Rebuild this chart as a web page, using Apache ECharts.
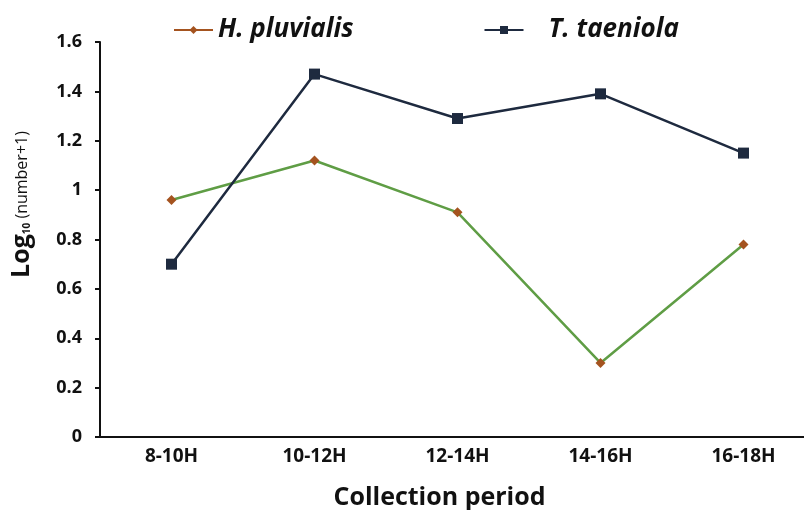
<!DOCTYPE html>
<html lang="en">
  <head>
    <meta charset="UTF-8" />
    <title>Collection period</title>
    <script src="https://cdn.jsdelivr.net/npm/echarts@6/dist/echarts.min.js"></script>
  </head>
  <body style="margin: 0">
    <div id="main" style="width: 804px; height: 510px"></div>
    <script type="text/javascript">
      var periods = ["8-10H", "10-12H", "12-14H", "14-16H", "16-18H"];
      var pluvialis = [0.96, 1.12, 0.91, 0.3, 0.78];
      var taeniola = [0.7, 1.47, 1.29, 1.39, 1.15];

      var font = "Open Sans";
      var myChart = echarts.init(document.getElementById("main"));

      var option = {
        animation: false,
        backgroundColor: "#fff",
        textStyle: { fontFamily: font },
        legend: {
          left: 168,
          top: 12,
          itemWidth: 39,
          itemHeight: 10,
          itemGap: 130,
          textStyle: {
            fontFamily: font,
            fontSize: 26,
            fontWeight: "bold",
            fontStyle: "italic",
            color: "#111",
          },
          data: [
            { name: "H. pluvialis", lineStyle: { color: "#a4531f" } },
            { name: "T. taeniola", textStyle: { padding: [0, 0, 0, 20] } },
          ],
        },
        grid: {
          left: 100,
          right: -11,
          top: 42,
          bottom: 73,
          outerBoundsMode: "none",
        },
        xAxis: {
          type: "category",
          data: periods,
          name: "Collection period",
          nameLocation: "middle",
          nameGap: 48,
          nameTextStyle: {
            fontSize: 25,
            fontWeight: "bold",
            color: "#111",
            padding: [0, 36, 0, 0],
          },
          axisLine: { lineStyle: { color: "#111", width: 2 } },
          axisTick: { length: 5, lineStyle: { color: "#111", width: 2 } },
          axisLabel: {
            margin: 10,
            fontSize: 19,
            fontWeight: "bold",
            color: "#111",
          },
        },
        yAxis: {
          type: "value",
          min: 0,
          max: 1.6,
          interval: 0.2,
          name: "{a|Log}{b|10}{c| (number+1)}",
          nameLocation: "middle",
          nameGap: 66,
          nameRotate: 90,
          nameTextStyle: {
            color: "#111",
            padding: [0, 0, 0, 70],
            rich: {
              a: { fontSize: 25, fontWeight: "bold", color: "#111", fontFamily: font },
              b: { fontSize: 10, fontWeight: "bold", color: "#111", fontFamily: font, padding: [12, 0, 0, 0] },
              c: { fontSize: 16, color: "#111", fontFamily: font, padding: [2, 0, 0, 0] },
            },
          },
          splitLine: { show: false },
          axisLine: { show: true, lineStyle: { color: "#111", width: 2 } },
          axisTick: { show: true, length: 5, lineStyle: { color: "#111", width: 2 } },
          axisLabel: {
            margin: 18,
            fontSize: 18,
            fontWeight: "bold",
            color: "#111",
          },
        },
        series: [
          {
            name: "H. pluvialis",
            type: "line",
            data: pluvialis,
            symbol: "diamond",
            symbolSize: 10,
            itemStyle: { color: "#a4531f" },
            lineStyle: { color: "#5f9d45", width: 2.5 },
          },
          {
            name: "T. taeniola",
            type: "line",
            data: taeniola,
            symbol: "rect",
            symbolSize: 11,
            itemStyle: { color: "#1e2a3f" },
            lineStyle: { color: "#1e2a3f", width: 2.5 },
          },
        ],
      };

      myChart.setOption(option);
    </script>
  </body>
</html>
